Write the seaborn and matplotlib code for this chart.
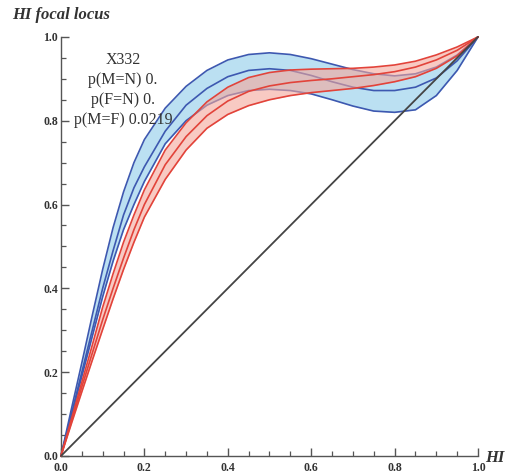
import numpy as np
import pandas as pd
import seaborn as sns
import matplotlib
matplotlib.use("Agg")
import matplotlib.pyplot as plt
from matplotlib.ticker import MultipleLocator

# HI grid
hi = [0, 0.025, 0.05, 0.075, 0.1, 0.125, 0.15, 0.175, 0.2, 0.25, 0.3, 0.35,
      0.4, 0.45, 0.5, 0.55, 0.6, 0.65, 0.7, 0.75, 0.8, 0.85, 0.9, 0.95, 1.0]

# blue band (upper / mean / lower)
blue_upper = [0, 0.112, 0.222, 0.335, 0.445, 0.545, 0.63, 0.70, 0.755, 0.83, 0.882, 0.92,
              0.945, 0.958, 0.962, 0.958, 0.948, 0.935, 0.922, 0.912, 0.907, 0.912, 0.928, 0.957, 1.0]
blue_mid = [0, 0.10, 0.20, 0.30, 0.40, 0.49, 0.575, 0.64, 0.69, 0.775, 0.837, 0.877,
            0.905, 0.92, 0.924, 0.92, 0.908, 0.893, 0.88, 0.872, 0.872, 0.88, 0.902, 0.943, 1.0]
blue_lower = [0, 0.095, 0.19, 0.285, 0.38, 0.465, 0.54, 0.60, 0.655, 0.745, 0.80, 0.837,
              0.86, 0.872, 0.875, 0.872, 0.864, 0.85, 0.835, 0.823, 0.82, 0.826, 0.86, 0.92, 1.0]

# red band (upper / mean / lower)
red_upper = [0, 0.088, 0.176, 0.264, 0.355, 0.435, 0.51, 0.575, 0.635, 0.73, 0.795, 0.845,
             0.88, 0.903, 0.915, 0.921, 0.923, 0.924, 0.925, 0.928, 0.933, 0.942, 0.957, 0.976, 1.0]
red_mid = [0, 0.082, 0.165, 0.245, 0.325, 0.40, 0.472, 0.54, 0.6, 0.695, 0.762, 0.812,
           0.847, 0.87, 0.883, 0.891, 0.896, 0.90, 0.905, 0.91, 0.917, 0.928, 0.945, 0.968, 1.0]
red_lower = [0, 0.077, 0.153, 0.228, 0.302, 0.375, 0.445, 0.51, 0.57, 0.66, 0.73, 0.782,
             0.815, 0.836, 0.85, 0.86, 0.867, 0.872, 0.877, 0.884, 0.893, 0.905, 0.925, 0.955, 1.0]

diag_x = [0, 1]
diag_y = [0, 1]

annotation = ["X332", "p(M=N) 0.", "p(F=N) 0.", "p(M=F) 0.0219"]

sns.set_style("ticks")
plt.rcParams['font.family'] = ['Liberation Serif', 'DejaVu Serif']

fig = plt.figure(figsize=(5.08, 4.73), dpi=100)
ax = fig.add_axes([0.120, 0.036, 0.821, 0.886])

blue_line = "#3d58b0"
red_line = "#e2433a"

ax.fill_between(hi, blue_lower, blue_upper, color="#afdbf0", alpha=0.85, lw=0, zorder=1)
for ys in (blue_upper, blue_mid, blue_lower):
    sns.lineplot(x=hi, y=ys, ax=ax, color=blue_line, lw=1.2, zorder=2)

ax.fill_between(hi, red_lower, red_upper, color="#f4a79b", alpha=0.6, lw=0, zorder=3)
for ys in (red_upper, red_mid, red_lower):
    sns.lineplot(x=hi, y=ys, ax=ax, color=red_line, lw=1.2, zorder=4)

sns.lineplot(x=diag_x, y=diag_y, ax=ax, color="#444444", lw=1.3, zorder=5)

ax.set_xlim(0, 1)
ax.set_ylim(0, 1)
for ln in ax.lines:
    ln.set_clip_on(False)

for side in ("top", "right"):
    ax.spines[side].set_visible(False)
for side in ("left", "bottom"):
    ax.spines[side].set_color("#555555")
    ax.spines[side].set_linewidth(1.0)

ax.xaxis.set_major_locator(MultipleLocator(0.2))
ax.xaxis.set_minor_locator(MultipleLocator(0.05))
ax.yaxis.set_major_locator(MultipleLocator(0.2))
ax.yaxis.set_minor_locator(MultipleLocator(0.05))
ax.tick_params(which="major", direction="in", length=6, width=1, color="#555555",
               labelsize=8.5, pad=2)
ax.tick_params(axis="x", which="major", pad=4)
ax.tick_params(which="minor", direction="in", length=3.5, width=0.9, color="#555555")
ax.xaxis.set_major_formatter(matplotlib.ticker.FormatStrFormatter("%.1f"))
ax.yaxis.set_major_formatter(matplotlib.ticker.FormatStrFormatter("%.1f"))
for lab in ax.get_xticklabels() + ax.get_yticklabels():
    lab.set_fontweight("bold")
    lab.set_color("#333333")

ax.set_xlabel("")
ax.set_ylabel("")
fig.text(0.024, 0.968, "HI focal locus", fontsize=12, style="italic",
         fontweight="bold", color="#333333", va="center", ha="left")
fig.text(0.955, 0.032, "HI", fontsize=12, style="italic",
         fontweight="bold", color="#333333", va="center", ha="left")

for i, t in enumerate(annotation):
    ax.text(0.149, 0.945 - i * 0.048, t, fontsize=11.5, color="#333333",
            ha="center", va="center", zorder=6)

fig.savefig("out.png", dpi=100)
